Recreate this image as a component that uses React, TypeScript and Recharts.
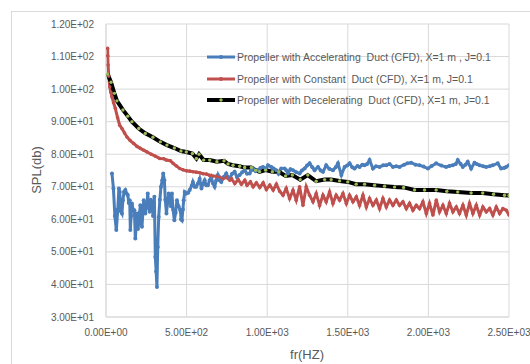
import { LineChart, Line, XAxis, YAxis, CartesianGrid } from 'recharts'

// Propeller with Accelerating Duct (CFD)
const accelHz = [
  37, 46, 55, 64, 73, 80, 85, 92, 99, 105, 112, 120, 128, 135, 141, 147, 151, 156, 161, 168,
  176, 182, 187, 192, 198, 203, 208, 213, 218, 223, 229, 234, 240, 244, 252, 259, 265, 271, 278, 285,
  292, 300, 306, 311, 316, 321, 327, 334, 341, 349, 355, 362, 368, 375, 382, 389, 396, 403, 409, 416,
  424, 432, 440, 450, 461, 466, 471, 477, 482, 488, 498, 510, 519, 533, 539, 550, 560, 570, 581, 592,
  602, 612, 622, 632, 643, 653, 664, 674, 684, 694, 705, 715, 730, 746, 756, 767, 782, 798, 812, 829,
  845, 860, 875, 891, 900, 912, 928, 943, 958, 974, 990, 1005, 1025, 1040, 1056, 1070, 1087, 1108, 1118, 1129,
  1144, 1160, 1180, 1201, 1215, 1232, 1247, 1263, 1280, 1294, 1315, 1332, 1346, 1366, 1385, 1408, 1425, 1439, 1460, 1480,
  1496, 1511, 1528, 1542, 1560, 1573, 1590, 1604, 1620, 1635, 1656, 1675, 1697, 1720, 1739, 1759, 1780, 1800, 1821, 1850,
  1870, 1893, 1920, 1945, 1970, 1997, 2020, 2048, 2080, 2110, 2130, 2151, 2170, 2182, 2200, 2213, 2230, 2244, 2265, 2286,
  2300, 2317, 2340, 2358, 2380, 2399, 2430, 2451, 2470, 2482, 2500,
]
const accelSpl = [
  74.1, 69.5, 61, 56.7, 63, 69.5, 68.4, 62.5, 61.8, 65.9, 68.5, 69.0, 67.9, 67.5, 65, 65.9, 56.7, 61, 64.9, 63,
  62.8, 54.1, 58, 61.8, 57, 58.7, 62, 64.3, 60, 57.7, 62, 65.9, 63, 61.8, 64, 67.9, 64, 62.3, 66, 64.9,
  61, 66.9, 48.4, 44, 39.2, 51.5, 60.7, 66, 70.0, 72, 74.1, 72, 66, 61.8, 65, 67.9, 66, 64, 67.9, 63,
  59.7, 62, 65.9, 64, 62.8, 60, 59.7, 63, 65.9, 68.4, 67.9, 68.2, 69.0, 70.5, 71.5, 70, 70.0, 71, 72.5, 69.5,
  71, 72.0, 70.5, 70.5, 72, 73.0, 71, 70.0, 72, 73.6, 72, 71.5, 73, 74.1, 73, 72.5, 74, 74.6, 73, 73.6,
  74.5, 75.1, 74, 74.1, 75, 75.6, 74.8, 75.1, 75.8, 76.1, 75.5, 76.6, 76.1, 75.6, 75.1, 74.0, 75.6, 75.6, 75.1, 74.1,
  75.4, 75.1, 74.5, 74.1, 75, 75.6, 76.5, 77.2, 76, 75.1, 76.1, 75, 74.6, 76.6, 75.5, 75.1, 76, 77.2, 73.6, 76.1,
  76.5, 77.2, 76, 75.6, 76.4, 76.1, 76.8, 76.6, 77, 78.2, 75.6, 76.3, 76.1, 76.6, 76.6, 77.0, 76.1, 76.3, 76.1, 76.8,
  77.2, 77.4, 76.8, 76.6, 76.2, 75.6, 76.4, 77.2, 76.5, 76.1, 76.4, 76.6, 77.0, 78.2, 77.0, 76.1, 76.8, 77.7, 75.6, 77.4,
  77, 76.6, 76.3, 76.1, 76.3, 76.6, 77.2, 75.6, 75.8, 76.1, 76.6,
]

// Propeller with Constant Duct (CFD)
const constHz = [
  10, 11, 13, 17, 23, 30, 37, 47, 58, 72, 85, 99, 115, 130, 150, 172, 192, 213, 235, 254,
  280, 306, 333, 358, 374, 399, 416, 437, 457, 478, 499, 520, 540, 560, 581, 602, 623, 643, 664, 685,
  705, 726, 747, 768, 778, 799, 820, 840, 861, 875, 896, 913, 933, 954, 975, 995, 1016, 1037, 1057, 1078,
  1098, 1118, 1139, 1160, 1180, 1201, 1222, 1242, 1263, 1284, 1304, 1325, 1346, 1366, 1387, 1408, 1428, 1449, 1470, 1491,
  1511, 1532, 1553, 1573, 1594, 1615, 1635, 1656, 1677, 1697, 1718, 1739, 1759, 1780, 1801, 1821, 1842, 1863, 1883, 1904,
  1925, 1945, 1966, 1987, 2007, 2028, 2049, 2069, 2090, 2111, 2131, 2152, 2173, 2193, 2214, 2235, 2255, 2276, 2297, 2318,
  2338, 2359, 2380, 2400, 2421, 2442, 2462, 2483, 2500,
]
const constSpl = [
  112.5, 110.2, 107.4, 104, 100.7, 99, 97.6, 95.8, 94.1, 91.2, 88.9, 87.9, 86.5, 85.3, 84.2, 83.3, 82.4, 81.8, 81.2, 80.7,
  80.0, 79.4, 78.7, 78.6, 78.2, 78.0, 77.2, 76.4, 75.6, 75.2, 74.9, 74.8, 74.6, 74.5, 74.3, 74.0, 73.9, 73.5, 73.3, 73.2,
  73.0, 72.5, 72.9, 72.0, 72.5, 71.0, 72.2, 70.8, 72.0, 70.5, 71.5, 70.0, 71.2, 69.8, 71.2, 69.2, 70.5, 69.0, 70.8, 68.6,
  67.4, 69.5, 66.4, 68.9, 65.9, 70.0, 64.3, 70.0, 67.4, 65.4, 67.9, 64.3, 67.4, 65.4, 68.4, 64.9, 67.4, 65.9, 67.9, 64.9,
  67.4, 65.4, 66.9, 64.3, 67.4, 63.8, 66.4, 64.3, 65.9, 63.3, 66.4, 63.8, 65.9, 64.3, 65.9, 64.3, 65.4, 63.3, 64.9, 62.8,
  64.3, 63.3, 65.4, 61.8, 64.9, 61.3, 65.9, 62.3, 64.3, 61.8, 64.9, 62.3, 63.8, 61.8, 64.3, 61.3, 64.9, 61.8, 64.3, 61.3,
  63.8, 62.3, 63.3, 61.3, 63.8, 61.8, 63.3, 62.8, 61.3,
]

// Propeller with Decelerating Duct (CFD)
const decelHz = [
  10, 31, 52, 68, 105, 135, 161, 203, 244, 291, 337, 378, 424, 465, 498, 536, 561, 577, 606, 643,
  688, 732, 757, 788, 829, 860, 902, 928, 953, 990, 1032, 1073, 1114, 1156, 1205, 1252, 1304, 1356, 1397, 1449,
  1500, 1552, 1604, 1666, 1728, 1790, 1846, 1914, 1976, 2048, 2114, 2182, 2265, 2337, 2404, 2472, 2500,
]
const decelSpl = [
  104.6, 102.1, 98.7, 96.4, 93.6, 91.7, 90.0, 87.9, 86.4, 85.2, 83.8, 82.8, 81.9, 81.0, 80.7, 80.2, 78.7, 80.0, 78.2, 78.2,
  77.7, 78.0, 77.0, 76.6, 76.3, 75.9, 75.9, 75.1, 74.6, 75.1, 74.6, 74.6, 73.3, 73.6, 72.2, 73.6, 71.7, 72.2, 72.2, 71.8,
  71.5, 70.8, 70.8, 70.5, 70.2, 69.9, 69.8, 69.0, 69.0, 69.0, 68.6, 68.4, 68.1, 68.1, 67.7, 67.4, 67.3,
]

const xTicks = [0, 500, 1000, 1500, 2000, 2500]
const yTicks = [30, 40, 50, 60, 70, 80, 90, 100, 110, 120]

const legendLabels = [
  'Propeller with Accelerating  Duct (CFD), X=1 m , J=0.1',
  'Propeller with Constant  Duct (CFD), X=1 m, J=0.1',
  'Propeller with Decelerating  Duct (CFD), X=1 m, J=0.1',
]

const BLUE = '#4a7ebb'
const RED = '#c0504d'
const BLACK = '#000000'
const GREEN = '#9bbb59'
const TEXT = '#595959'
const GRID = '#d9d9d9'
const FONT = '"Liberation Sans", Arial, sans-serif'

const zip = (xs: number[], ys: number[]) => xs.map((x, i) => ({ x, y: ys[i] }))

const accelData = zip(accelHz, accelSpl)
const constData = zip(constHz, constSpl)
const decelData = zip(decelHz, decelSpl)

function sci(v: number) {
  const [m, e] = v.toExponential(2).split('e')
  const n = Number(e)
  const sign = n < 0 ? '-' : '+'
  return `${m}E${sign}${String(Math.abs(n)).padStart(2, '0')}`
}

const W = 530
const H = 364

export default function App() {
  const legendColors = [BLUE, RED, BLACK]
  const legendY = [57, 79, 100]

  return (
    <div style={{ position: 'absolute', left: 0, top: 0, width: W, height: H, background: '#fff', overflow: 'hidden' }}>
      <div
        style={{
          position: 'absolute',
          left: 11,
          top: 11,
          width: W,
          height: H,
          borderLeft: `1px solid ${GRID}`,
          borderTop: `1px solid ${GRID}`,
        }}
      />
      <LineChart
        width={W}
        height={H}
        margin={{ top: 24, right: 21, bottom: 17, left: 0 }}
        style={{ position: 'absolute', left: 0, top: 0 }}
      >
        <CartesianGrid stroke={GRID} strokeWidth={1} />
        <XAxis
          dataKey="x"
          type="number"
          domain={[0, 2500]}
          ticks={xTicks}
          tickFormatter={sci}
          tickLine={false}
          tickMargin={6}
          height={30}
          stroke={GRID}
          tick={{ fontSize: 10, fill: TEXT, fontFamily: FONT }}
          allowDataOverflow
        />
        <YAxis
          type="number"
          domain={[30, 120]}
          ticks={yTicks}
          tickFormatter={sci}
          tickLine={false}
          tickMargin={6}
          width={106}
          stroke={GRID}
          tick={{ fontSize: 10, fill: TEXT, fontFamily: FONT }}
        />
        <Line
          data={accelData}
          dataKey="y"
          stroke={BLUE}
          strokeWidth={3}
          dot={{ r: 2, fill: BLUE, stroke: BLUE, strokeWidth: 0 }}
          isAnimationActive={false}
        />
        <Line
          data={constData}
          dataKey="y"
          stroke={RED}
          strokeWidth={3}
          dot={{ r: 1.8, fill: RED, stroke: RED, strokeWidth: 0 }}
          isAnimationActive={false}
        />
        <Line
          data={decelData}
          dataKey="y"
          stroke={BLACK}
          strokeWidth={4}
          dot={{ r: 1.7, fill: GREEN, stroke: GREEN, strokeWidth: 0 }}
          isAnimationActive={false}
        />
      </LineChart>
      <svg width={W} height={H} style={{ position: 'absolute', left: 0, top: 0, pointerEvents: 'none' }}>
        {legendLabels.map((label, i) => (
          <g key={label}>
            <line x1={207} x2={235} y1={legendY[i]} y2={legendY[i]} stroke={legendColors[i]} strokeWidth={i === 2 ? 4 : 3} />
            <circle cx={221} cy={legendY[i]} r={i === 2 ? 1.7 : 2} fill={i === 2 ? GREEN : legendColors[i]} />
            <text
              x={237}
              y={legendY[i]}
              dy="0.35em"
              fontSize={10.5}
              fill={TEXT}
              fontFamily={FONT}
              style={{ whiteSpace: 'pre' }}
            >
              {label}
            </text>
          </g>
        ))}
        <text x={307} y={354} dy="0.35em" textAnchor="middle" fontSize={13} fill={TEXT} fontFamily={FONT}>
          fr(HZ)
        </text>
        <text
          x={36}
          y={170}
          dy="0.35em"
          textAnchor="middle"
          fontSize={13}
          fill={TEXT}
          fontFamily={FONT}
          transform="rotate(-90 36 170)"
        >
          SPL(db)
        </text>
      </svg>
    </div>
  )
}
